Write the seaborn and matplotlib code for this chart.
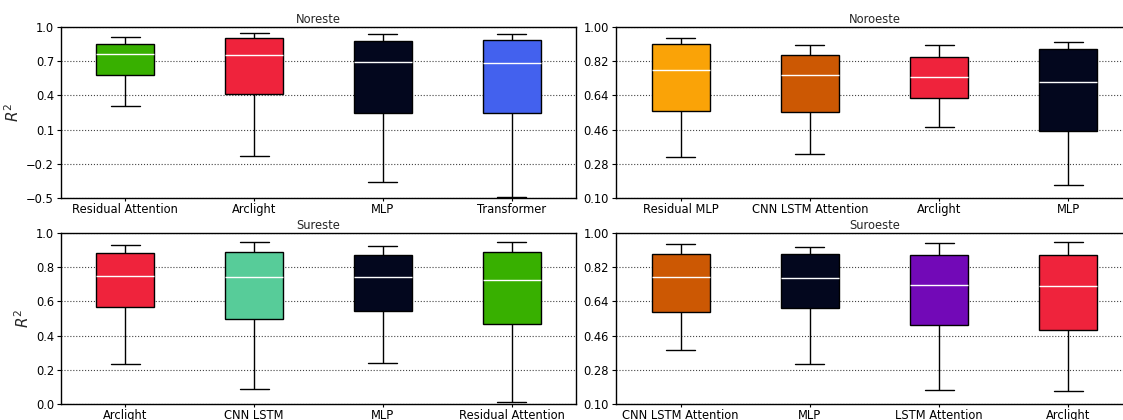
import numpy as np
import pandas as pd
import seaborn as sns
import matplotlib
matplotlib.use("Agg")
import matplotlib.pyplot as plt
from matplotlib.ticker import FuncFormatter

# Five-number summaries per model: [lower whisker, Q1, median, Q3, upper whisker]
noreste_models = ["Residual Attention", "Arclight", "MLP", "Transformer"]
noreste_stats = [
    [0.304, 0.576, 0.762, 0.855, 0.916],
    [-0.131, 0.408, 0.753, 0.901, 0.951],
    [-0.357, 0.249, 0.690, 0.878, 0.939],
    [-0.488, 0.246, 0.684, 0.890, 0.939],
]

noroeste_models = ["Residual MLP", "CNN LSTM Attention", "Arclight", "MLP"]
noroeste_stats = [
    [0.314, 0.556, 0.772, 0.908, 0.941],
    [0.331, 0.554, 0.746, 0.852, 0.904],
    [0.474, 0.626, 0.739, 0.843, 0.906],
    [0.168, 0.455, 0.711, 0.883, 0.923],
]

sureste_models = ["Arclight", "CNN LSTM", "MLP", "Residual Attention"]
sureste_stats = [
    [0.231, 0.565, 0.751, 0.882, 0.932],
    [0.089, 0.495, 0.740, 0.891, 0.950],
    [0.237, 0.544, 0.740, 0.870, 0.926],
    [0.012, 0.470, 0.728, 0.891, 0.950],
]

suroeste_models = ["CNN LSTM Attention", "MLP", "LSTM Attention", "Arclight"]
suroeste_stats = [
    [0.385, 0.582, 0.768, 0.892, 0.942],
    [0.309, 0.603, 0.764, 0.890, 0.927],
    [0.172, 0.516, 0.726, 0.882, 0.946],
    [0.170, 0.488, 0.719, 0.886, 0.951],
]

model_colors = {
    "Residual Attention": "#38B000",
    "Arclight": "#EF233C",
    "MLP": "#03071E",
    "Transformer": "#4361EE",
    "Residual MLP": "#FAA307",
    "CNN LSTM Attention": "#CC5803",
    "CNN LSTM": "#57CC99",
    "LSTM Attention": "#7209B7",
}

yticks_wide = [-0.5, -0.2, 0.1, 0.4, 0.7, 1.0]
yticks_unit = [0.0, 0.2, 0.4, 0.6, 0.8, 1.0]
yticks_fine = [0.10, 0.28, 0.46, 0.64, 0.82, 1.00]

panels = [
    ("Noreste", noreste_models, noreste_stats, yticks_wide, 1, True),
    ("Noroeste", noroeste_models, noroeste_stats, yticks_fine, 2, False),
    ("Sureste", sureste_models, sureste_stats, yticks_unit, 1, True),
    ("Suroeste", suroeste_models, suroeste_stats, yticks_fine, 2, False),
]


def tick_formatter(decimals):
    def fmt(v, _pos):
        return f"{v:.{decimals}f}".replace("-", "\u2212")
    return FuncFormatter(fmt)


sns.set_theme(style="ticks")
plt.rcParams["font.family"] = ["DejaVu Sans"]

fig = plt.figure(figsize=(11.23, 4.2), dpi=100)
W, H = 1123, 420
rects = [
    (61 / W, 1 - 198 / H, 515 / W, 171 / H),
    (616 / W, 1 - 198 / H, 517 / W, 171 / H),
    (61 / W, 1 - 404 / H, 515 / W, 171 / H),
    (616 / W, 1 - 404 / H, 517 / W, 171 / H),
]

for rect, (title, models, stats, yticks, decimals, show_ylabel) in zip(rects, panels):
    ax = fig.add_axes(rect)
    rows = []
    for m, s in zip(models, stats):
        for v in s:
            rows.append({"model": m, "r2": v})
    df = pd.DataFrame(rows)
    sns.boxplot(
        data=df, x="model", y="r2", hue="model", order=models,
        palette=model_colors, legend=False, ax=ax,
        width=0.45, whis=(0, 100), saturation=1, showfliers=False,
        linecolor="black", linewidth=1.0,
        medianprops={"color": "white", "linewidth": 1.0},
    )
    ax.set_ylim(yticks[0], yticks[-1])
    ax.set_yticks(yticks)
    ax.yaxis.set_major_formatter(tick_formatter(decimals))
    ax.yaxis.grid(True, linestyle=":", color="#444444", linewidth=0.8)
    ax.set_axisbelow(True)
    ax.set_xlabel("")
    if show_ylabel:
        ax.set_ylabel("$R^2$", fontsize=11, labelpad=3)
    else:
        ax.set_ylabel("")
    ax.set_title(title, fontsize=8.3, pad=3)
    ax.tick_params(axis="both", labelsize=8.3, length=3, width=0.8, pad=2, colors="black")
    ax.tick_params(axis="x", length=2.5, pad=1)
    for sp in ax.spines.values():
        sp.set_visible(True)
        sp.set_color("black")
        sp.set_linewidth(1.0)

fig.savefig("out.png", dpi=100, facecolor="white")
